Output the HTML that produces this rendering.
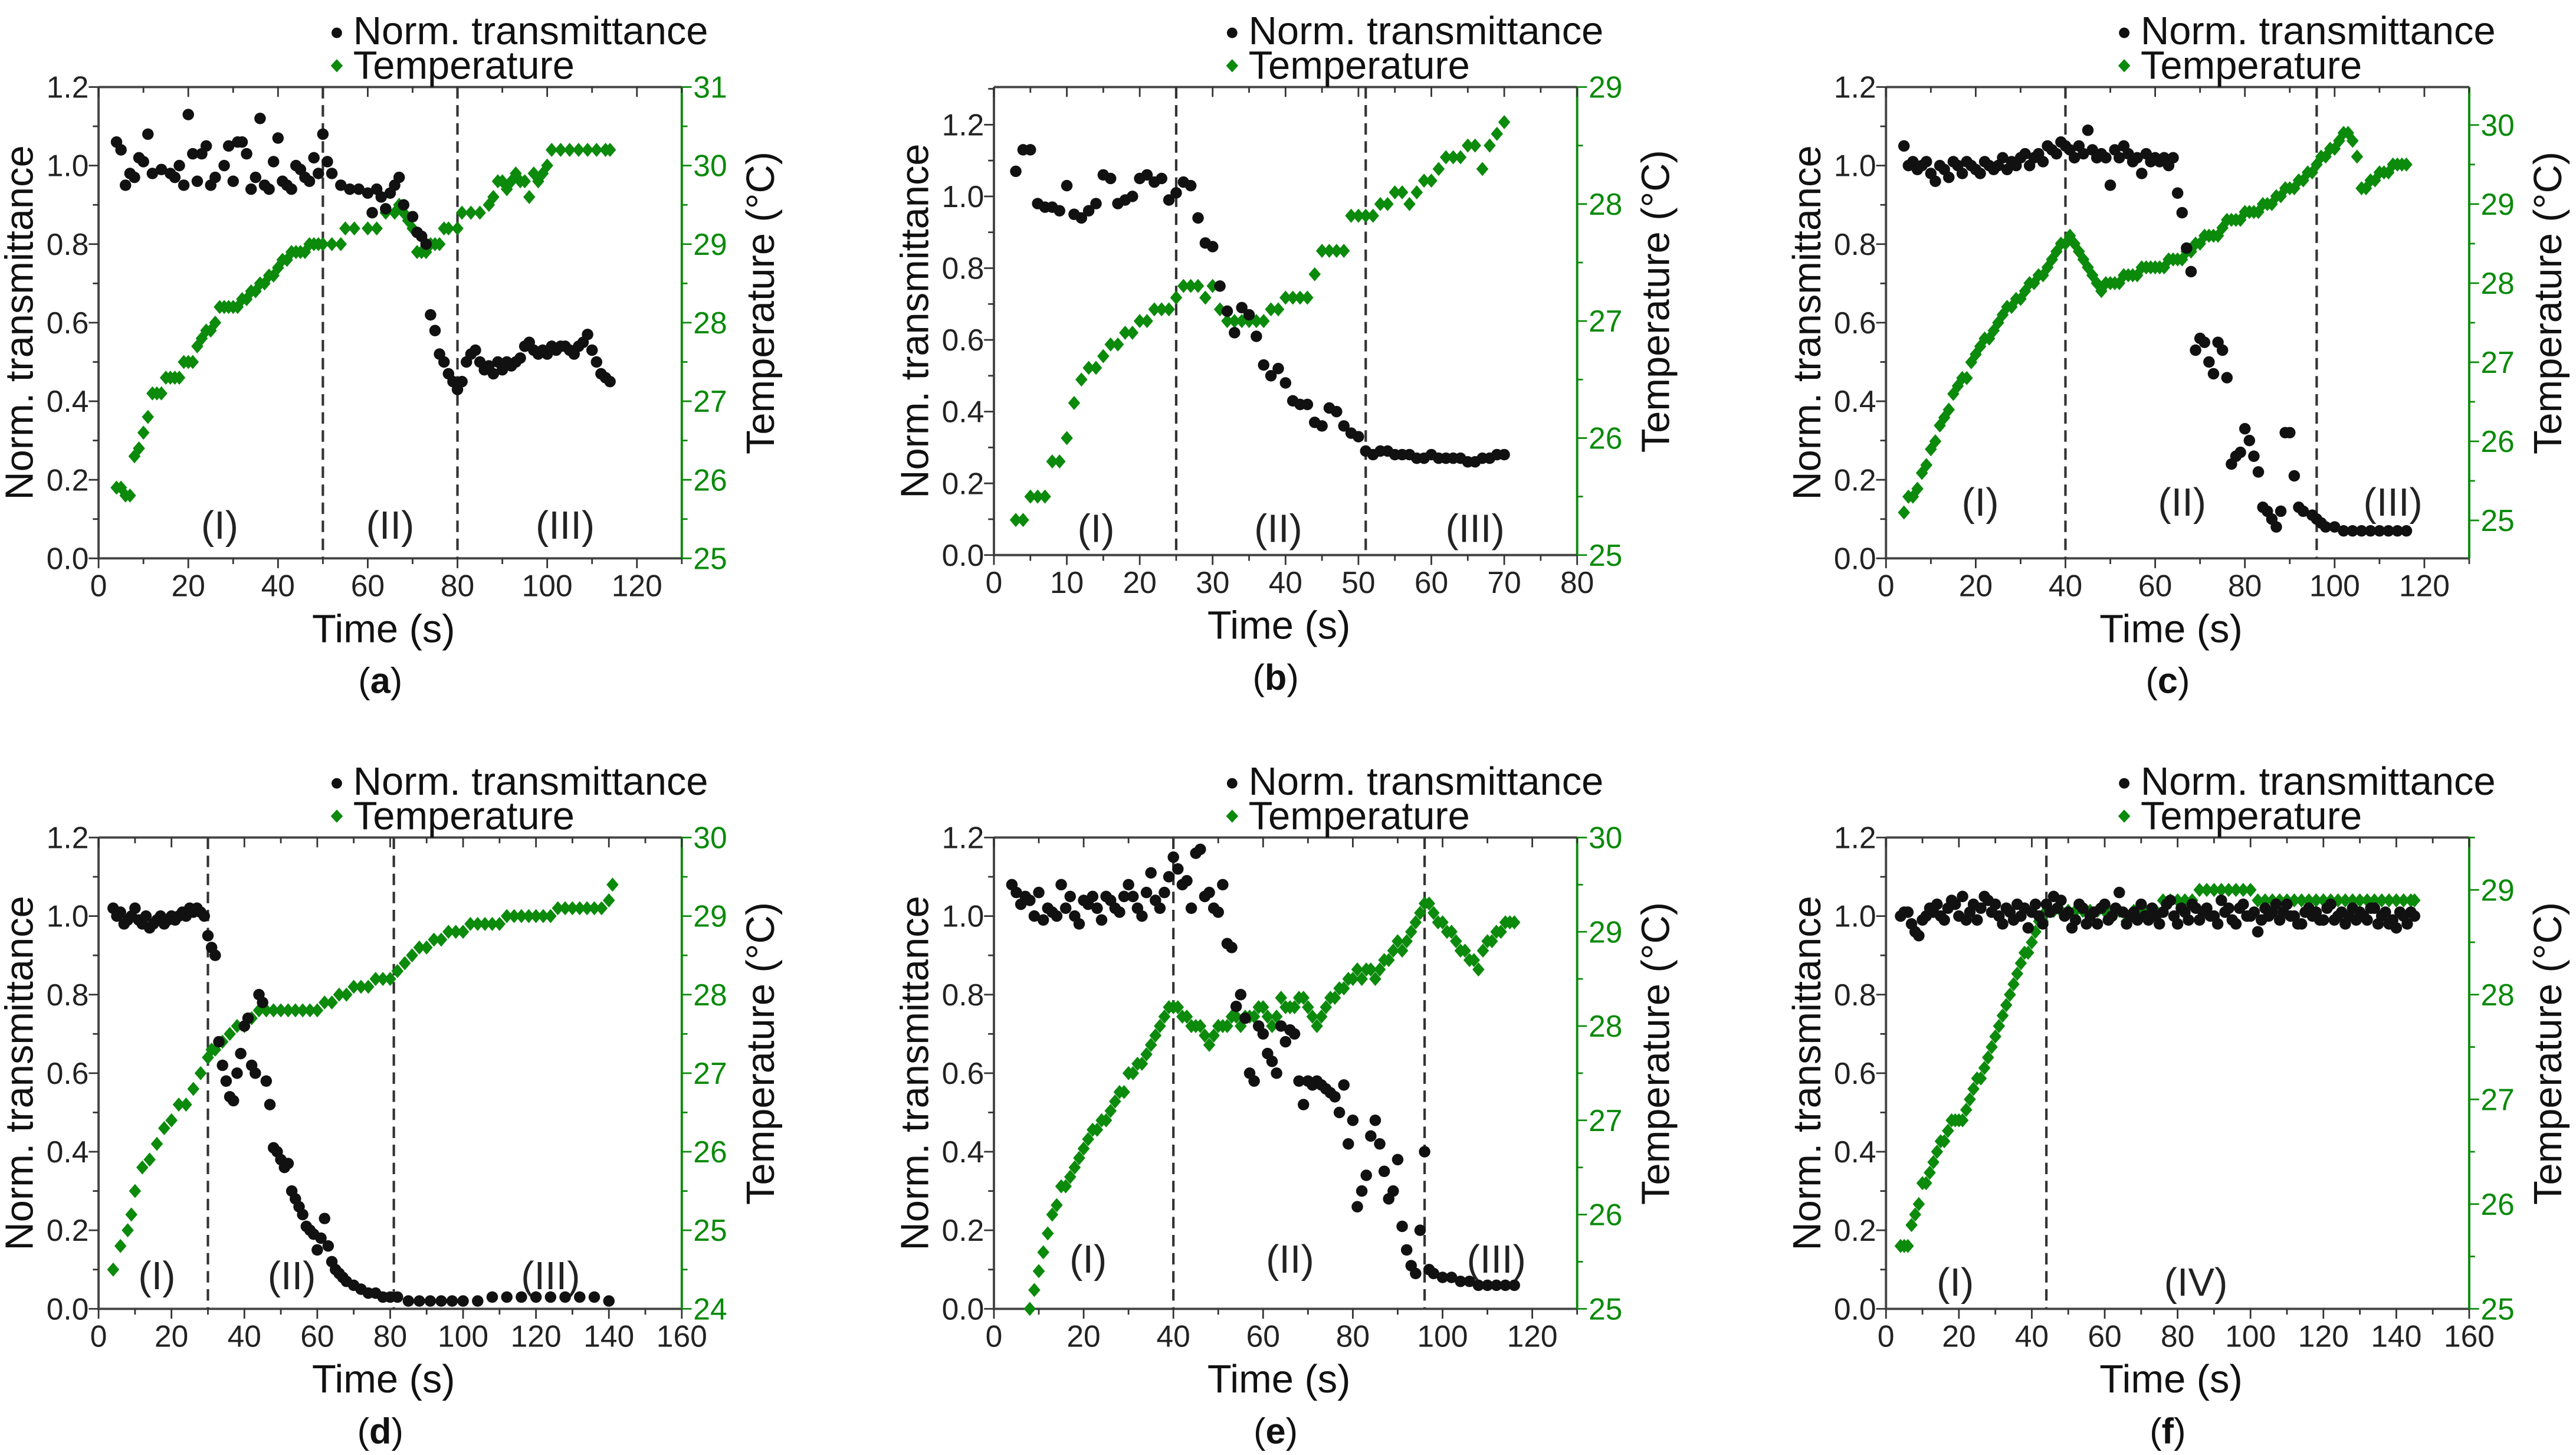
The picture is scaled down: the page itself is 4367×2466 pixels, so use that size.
<!DOCTYPE html>
<html><head><meta charset="utf-8"><style>
html,body{margin:0;padding:0;background:#fff;}
svg{display:block;font-family:"Liberation Sans",Arial,sans-serif;}
</style></head><body>
<svg id="fig" width="4367" height="2466" viewBox="0 0 1568 886" preserveAspectRatio="none" xmlns="http://www.w3.org/2000/svg"></svg>
<script>
// ---------- data ----------
const aTransT=[4,5,6,7,8,9,10,11,12,14,16,17,18,19,20,21,22,23,24,25,26,28,29,30,31,32,33,34,35,36,37,38,39,40,41,42,43,44,45,46,47,48,49,50,51,52,54,56,58,60,61,62,63,64,65,66,67,68,70,71,72,73,74,75,76,77,78,79,80,81,82,83,84,85,86,87,88,89,90,91,92,93,94,95,96,97,98,99,100,101,102,103,104,105,106,107,108,109,110,111,112,113,114];
const aTransV=[1.06,1.04,0.95,0.98,0.97,1.02,1.01,1.08,0.98,0.99,0.98,0.97,1.0,0.95,1.13,1.03,0.96,1.03,1.05,0.95,0.97,1.0,1.05,0.96,1.06,1.06,1.03,0.94,0.97,1.12,0.95,0.94,1.01,1.07,0.96,0.95,0.94,1.0,0.99,0.97,0.96,1.02,0.98,1.08,1.01,0.98,0.95,0.94,0.94,0.93,0.88,0.94,0.92,0.89,0.93,0.95,0.97,0.9,0.87,0.83,0.82,0.8,0.62,0.58,0.52,0.5,0.47,0.45,0.43,0.45,0.5,0.52,0.53,0.5,0.48,0.49,0.47,0.5,0.48,0.5,0.49,0.5,0.51,0.54,0.55,0.53,0.52,0.53,0.52,0.54,0.53,0.54,0.54,0.53,0.52,0.54,0.55,0.57,0.53,0.5,0.47,0.46,0.45];
const aTempT=[4,5,6,7,8,9,10,11,12,13,14,15,16,17,18,19,20,21,22,23,24,25,26,27,28,29,30,31,32,33,34,35,36,37,38,39,40,41,42,43,44,45,46,47,48,49,50,52,54,55,57,60,62,64,66,67,68,69,70,71,72,73,74,75,76,77,78,80,81,83,85,87,88,89,90,91,92,93,94,95,96,97,98,99,100,101,103,105,107,109,111,113,114];
const aTempV=[25.9,25.9,25.8,25.8,26.3,26.4,26.6,26.8,27.1,27.1,27.1,27.3,27.3,27.3,27.3,27.5,27.5,27.5,27.7,27.8,27.9,27.9,28.0,28.2,28.2,28.2,28.2,28.2,28.3,28.3,28.4,28.4,28.5,28.5,28.6,28.6,28.7,28.8,28.8,28.9,28.9,28.9,28.9,29.0,29.0,29.0,29.0,29.0,29.0,29.2,29.2,29.2,29.2,29.4,29.4,29.5,29.4,29.3,29.2,28.9,28.9,28.9,29.0,29.0,29.0,29.2,29.2,29.2,29.4,29.4,29.4,29.5,29.6,29.8,29.8,29.7,29.8,29.9,29.8,29.8,29.6,29.9,29.8,29.9,30.0,30.2,30.2,30.2,30.2,30.2,30.2,30.2,30.2];

const bTransT=[3,4,5,6,7,8,9,10,11,12,13,14,15,16,17,18,19,20,21,22,23,24,25,26,27,28,29,30,31,32,33,34,35,36,37,38,39,40,41,42,43,44,45,46,47,48,49,50,51,52,53,54,55,56,57,58,59,60,61,62,63,64,65,66,67,68,69,70];
const bTransV=[1.07,1.13,1.13,0.98,0.97,0.97,0.96,1.03,0.95,0.94,0.96,0.98,1.06,1.05,0.98,0.99,1.0,1.05,1.06,1.04,1.05,0.99,1.01,1.04,1.03,0.94,0.87,0.86,0.75,0.68,0.62,0.69,0.67,0.61,0.53,0.5,0.52,0.48,0.43,0.42,0.42,0.37,0.36,0.41,0.4,0.36,0.34,0.33,0.29,0.28,0.29,0.29,0.28,0.28,0.28,0.27,0.27,0.28,0.27,0.27,0.27,0.27,0.26,0.26,0.27,0.27,0.28,0.28];
const bTempT=[3,4,5,6,7,8,9,10,11,12,13,14,15,16,17,18,19,20,21,22,23,24,25,26,27,28,29,30,31,32,33,34,35,36,37,38,39,40,41,42,43,44,45,46,47,48,49,50,51,52,53,54,55,56,57,58,59,60,61,62,63,64,65,66,67,68,69,70];
const bTempV=[25.3,25.3,25.5,25.5,25.5,25.8,25.8,26.0,26.3,26.5,26.6,26.6,26.7,26.8,26.8,26.9,26.9,27.0,27.0,27.1,27.1,27.1,27.2,27.3,27.3,27.3,27.2,27.3,27.1,27.0,27.0,27.0,27.0,27.0,27.0,27.1,27.1,27.2,27.2,27.2,27.2,27.4,27.6,27.6,27.6,27.6,27.9,27.9,27.9,27.9,28.0,28.0,28.1,28.1,28.0,28.1,28.2,28.2,28.3,28.4,28.4,28.4,28.5,28.5,28.3,28.5,28.6,28.7];

const cTransT=[4,5,6,7,8,9,10,11,12,13,14,15,16,17,18,19,20,21,22,23,24,25,26,27,28,29,30,31,32,33,34,35,36,37,38,39,40,41,42,43,44,45,46,47,48,49,50,51,52,53,54,55,56,57,58,59,60,61,62,63,64,65,66,67,68,69,70,71,72,73,74,75,76,77,78,79,80,81,82,83,84,85,86,87,88,89,90,91,92,93,95,96,97,98,100,102,104,106,108,110,112,114,116];
const cTransV=[1.05,1.0,1.01,0.99,1.0,1.01,0.98,0.96,1.0,0.99,0.97,1.01,1.0,0.98,1.01,1.0,0.99,0.98,1.01,1.0,0.99,1.0,1.02,0.99,1.01,1.0,1.02,1.03,1.0,1.02,1.03,1.01,1.05,1.04,1.03,1.06,1.05,1.04,1.02,1.05,1.03,1.09,1.04,1.02,1.03,1.02,0.95,1.04,1.02,1.05,1.03,1.01,1.02,0.98,1.03,1.01,1.02,1.01,1.02,1.0,1.02,0.93,0.88,0.79,0.73,0.53,0.56,0.55,0.5,0.47,0.55,0.53,0.46,0.24,0.26,0.27,0.33,0.3,0.26,0.22,0.13,0.12,0.1,0.08,0.12,0.32,0.32,0.21,0.13,0.12,0.11,0.1,0.09,0.08,0.08,0.07,0.07,0.07,0.07,0.07,0.07,0.07,0.07];
const cTempT=[4,5,6,7,8,9,10,11,12,13,14,15,16,17,18,19,20,21,22,23,24,25,26,27,28,29,30,31,32,33,34,35,36,37,38,39,40,41,42,43,44,45,46,47,48,49,50,51,52,53,54,55,56,57,58,59,60,61,62,63,64,65,66,67,68,69,70,71,72,73,74,75,76,77,78,79,80,81,82,83,84,85,86,87,88,89,90,91,92,93,94,95,96,97,98,99,100,101,102,103,104,105,106,107,108,109,110,111,112,113,114,115,116];
const cTempV=[25.1,25.3,25.3,25.4,25.6,25.7,25.9,26.0,26.2,26.3,26.4,26.6,26.7,26.8,26.8,27.0,27.1,27.2,27.3,27.3,27.4,27.5,27.6,27.7,27.7,27.8,27.8,27.9,28.0,28.0,28.1,28.1,28.2,28.3,28.4,28.5,28.5,28.6,28.5,28.4,28.3,28.2,28.1,28.0,27.9,28.0,28.0,28.0,28.0,28.1,28.1,28.1,28.1,28.2,28.2,28.2,28.2,28.2,28.2,28.3,28.3,28.3,28.3,28.4,28.4,28.5,28.5,28.6,28.6,28.6,28.6,28.7,28.8,28.8,28.8,28.8,28.9,28.9,28.9,28.9,29.0,29.0,29.0,29.1,29.1,29.2,29.2,29.2,29.3,29.3,29.4,29.4,29.5,29.6,29.6,29.7,29.7,29.8,29.9,29.9,29.8,29.6,29.2,29.2,29.3,29.3,29.4,29.4,29.4,29.5,29.5,29.5,29.5];

const dTransT=[4,5,6,7,8,9,10,11,12,13,14,15,16,17,18,19,20,21,22,23,24,25,26,27,28,29,30,31,32,33,34,35,36,37,38,39,40,41,42,43,44,45,46,47,48,49,50,51,52,53,54,55,56,57,58,59,60,61,62,63,64,65,66,67,68,70,72,74,76,78,80,82,85,88,91,94,97,100,104,108,112,116,120,124,128,132,136,140];
const dTransV=[1.02,1.0,1.01,0.98,0.99,1.0,1.02,0.99,0.98,1.0,0.97,0.98,0.99,1.0,0.98,0.99,1.0,0.99,1.0,1.01,1.0,1.02,1.01,1.02,1.01,1.0,0.95,0.92,0.9,0.68,0.62,0.58,0.54,0.53,0.6,0.65,0.72,0.74,0.62,0.6,0.8,0.78,0.58,0.52,0.41,0.4,0.38,0.36,0.37,0.3,0.28,0.26,0.24,0.21,0.2,0.19,0.15,0.18,0.23,0.16,0.12,0.1,0.09,0.08,0.07,0.06,0.05,0.04,0.04,0.03,0.03,0.03,0.02,0.02,0.02,0.02,0.02,0.02,0.02,0.03,0.03,0.03,0.03,0.03,0.03,0.03,0.03,0.02];
const dTempT=[4,6,8,9,10,12,14,16,18,20,22,24,26,28,30,31,32,34,36,38,40,42,44,46,48,50,52,54,56,58,60,62,64,66,68,70,72,74,76,78,80,82,84,86,88,90,92,94,96,98,100,102,104,106,108,110,112,114,116,118,120,122,124,126,128,130,132,134,136,138,140,141];
const dTempV=[24.5,24.8,25.0,25.2,25.5,25.8,25.9,26.1,26.3,26.4,26.6,26.6,26.8,27.0,27.2,27.3,27.3,27.4,27.5,27.6,27.6,27.7,27.8,27.8,27.8,27.8,27.8,27.8,27.8,27.8,27.8,27.9,27.9,28.0,28.0,28.1,28.1,28.1,28.2,28.2,28.2,28.3,28.4,28.5,28.6,28.6,28.7,28.7,28.8,28.8,28.8,28.9,28.9,28.9,28.9,28.9,29.0,29.0,29.0,29.0,29.0,29.0,29.0,29.1,29.1,29.1,29.1,29.1,29.1,29.1,29.2,29.4];

const eTransT=[4,5,6,7,8,9,10,11,12,13,14,15,16,17,18,19,20,21,22,23,24,25,26,27,28,29,30,31,32,33,34,35,36,37,38,39,40,41,42,43,44,45,46,47,48,49,50,51,52,53,54,55,56,57,58,59,60,61,62,63,64,65,66,67,68,69,70,71,72,73,74,75,76,77,78,79,80,81,82,83,84,85,86,87,88,89,90,91,92,93,94,95,96,97,98,100,102,104,106,108,110,112,114,116];
const eTransV=[1.08,1.06,1.03,1.05,1.04,1.0,1.06,0.99,1.02,1.01,1.0,1.08,1.02,1.05,1.0,0.98,1.04,1.03,1.05,1.02,0.99,1.05,1.04,1.02,1.01,1.05,1.08,1.05,1.02,1.0,1.06,1.11,1.04,1.02,1.06,1.1,1.15,1.12,1.08,1.09,1.02,1.16,1.17,1.05,1.06,1.02,1.01,1.08,0.93,0.92,0.77,0.8,0.74,0.6,0.58,0.72,0.7,0.65,0.63,0.6,0.72,0.68,0.71,0.7,0.58,0.52,0.58,0.57,0.58,0.57,0.56,0.55,0.54,0.5,0.57,0.42,0.48,0.26,0.3,0.34,0.44,0.48,0.42,0.35,0.28,0.3,0.38,0.21,0.15,0.11,0.09,0.2,0.4,0.1,0.09,0.08,0.08,0.07,0.07,0.06,0.06,0.06,0.06,0.06];
const eTempT=[8,9,10,11,12,13,14,15,16,17,18,19,20,21,22,23,24,25,26,27,28,29,30,31,32,33,34,35,36,37,38,39,40,41,42,43,44,45,46,47,48,49,50,51,52,53,54,55,56,57,58,59,60,61,62,63,64,65,66,67,68,69,70,71,72,73,74,75,76,77,78,79,80,81,82,83,84,85,86,87,88,89,90,91,92,93,94,95,96,97,98,99,100,101,102,103,104,105,106,107,108,109,110,111,112,113,114,115,116];
const eTempV=[25.0,25.2,25.4,25.6,25.8,26.0,26.1,26.3,26.3,26.4,26.5,26.6,26.7,26.8,26.9,26.9,27.0,27.0,27.1,27.2,27.3,27.3,27.5,27.5,27.6,27.6,27.7,27.8,27.9,28.0,28.1,28.2,28.2,28.2,28.1,28.1,28.0,28.0,28.0,27.9,27.8,27.9,28.0,28.0,28.0,28.1,28.1,28.0,28.1,28.1,28.1,28.2,28.2,28.1,28.0,28.1,28.3,28.2,28.2,28.2,28.3,28.3,28.2,28.1,28.0,28.1,28.2,28.3,28.3,28.4,28.4,28.5,28.5,28.6,28.5,28.6,28.6,28.5,28.6,28.7,28.7,28.8,28.9,28.8,28.9,29.0,29.1,29.2,29.3,29.3,29.2,29.1,29.1,29.0,29.0,28.9,28.8,28.8,28.7,28.7,28.6,28.8,28.9,28.9,29.0,29.0,29.1,29.1,29.1];

const fTransT=[4,5,6,7,8,9,10,11,12,13,14,15,16,17,18,19,20,21,22,23,24,25,26,27,28,29,30,31,32,33,34,35,36,37,38,39,40,41,42,43,44,45,46,47,48,49,50,51,52,53,54,55,56,57,58,59,60,61,62,63,64,65,66,67,68,69,70,71,72,73,74,75,76,77,78,79,80,81,82,83,84,85,86,87,88,89,90,91,92,93,94,95,96,97,98,99,100,101,102,103,104,105,106,107,108,109,110,111,112,113,114,115,116,117,118,119,120,121,122,123,124,125,126,127,128,129,130,131,132,133,134,135,136,137,138,139,140,141,142,143,144,145];
const fTransV=[1.0,1.01,1.01,0.98,0.96,0.95,0.99,1.0,1.02,1.01,1.03,1.0,0.99,1.02,1.04,1.03,1.0,1.05,0.99,1.01,1.03,0.99,1.02,1.05,1.04,1.01,1.03,1.0,0.98,1.02,1.01,0.99,1.03,1.0,1.02,0.97,1.01,1.03,1.0,0.98,1.03,1.01,1.05,1.02,1.04,1.0,1.01,0.97,0.99,1.03,1.02,0.98,1.0,1.01,0.98,1.02,1.03,0.99,1.0,1.02,1.06,1.01,0.98,1.0,1.01,0.99,1.03,1.0,0.99,1.02,1.0,0.98,1.01,1.03,1.04,1.0,0.98,1.02,1.01,0.99,1.03,1.02,0.99,1.01,1.02,1.0,1.0,0.98,1.04,1.01,1.02,0.99,0.98,1.02,1.03,1.0,1.0,1.01,0.96,0.99,1.02,1.0,1.01,1.03,0.99,1.01,1.03,1.0,1.0,0.98,0.98,1.01,1.02,1.0,1.01,0.99,0.99,1.02,1.03,0.99,1.0,1.01,0.98,1.0,1.02,0.99,1.01,1.0,0.99,1.02,1.02,0.98,1.0,1.01,0.98,0.99,0.97,1.01,1.0,0.98,1.01,1.0];
const fTempT=[4,5,6,7,8,9,10,11,12,13,14,15,16,17,18,19,20,21,22,23,24,25,26,27,28,29,30,31,32,33,34,35,36,37,38,39,40,41,42,43,44,46,48,50,52,54,56,58,60,62,64,66,68,70,72,74,76,78,80,82,84,86,88,90,92,94,96,98,100,102,104,106,108,110,112,114,116,118,120,122,124,126,128,130,132,134,136,138,140,142,144,145];
const fTempV=[25.6,25.6,25.6,25.8,25.9,26.0,26.2,26.2,26.3,26.4,26.5,26.6,26.6,26.7,26.8,26.8,26.8,26.8,26.9,27.0,27.1,27.2,27.2,27.3,27.4,27.5,27.6,27.7,27.8,27.9,28.0,28.1,28.2,28.3,28.4,28.4,28.5,28.6,28.7,28.7,28.8,28.8,28.8,28.8,28.8,28.8,28.8,28.8,28.8,28.8,28.8,28.7,28.8,28.8,28.8,28.8,28.9,28.9,28.9,28.9,28.9,29.0,29.0,29.0,29.0,29.0,29.0,29.0,29.0,28.9,28.9,28.9,28.9,28.9,28.9,28.9,28.9,28.9,28.9,28.9,28.9,28.9,28.9,28.9,28.9,28.9,28.9,28.9,28.9,28.9,28.9,28.9];

const xTicksA=[0,20,40,60,80,100,120];
const xTicksB=[0,10,20,30,40,50,60,70,80];
const xTicksD=[0,20,40,60,80,100,120,140,160];
const yLeftTicks=[0,0.2,0.4,0.6,0.8,1.0,1.2];

const panels=[
 {id:'a',L:60,R:415,T:53,B:340,xMax:130,ylMax:1.2,yr:[25,31],xt:xTicksA,yrt:[25,26,27,28,29,30,31],dash:[50,80],reg:[['(I)',27],['(II)',65],['(III)',104]],regY:328,tt:aTransT,tv:aTransV,gt:aTempT,gv:aTempV},
 {id:'b',L:605,R:960,T:53,B:338,xMax:80,ylMax:1.305,yr:[25,29],xt:xTicksB,yrt:[25,26,27,28,29],dash:[25,51],reg:[['(I)',14],['(II)',39],['(III)',66]],regY:330,tt:bTransT,tv:bTransV,gt:bTempT,gv:bTempV},
 {id:'c',L:1148,R:1503,T:53,B:340,xMax:130,ylMax:1.2,yr:[24.52,30.48],xt:xTicksA,yrt:[25,26,27,28,29,30],dash:[40,96],reg:[['(I)',21],['(II)',66],['(III)',113]],regY:314,tt:cTransT,tv:cTransV,gt:cTempT,gv:cTempV},
 {id:'d',L:60,R:415,T:510,B:797,xMax:160,ylMax:1.2,yr:[24,30],xt:xTicksD,yrt:[24,25,26,27,28,29,30],dash:[30,81],reg:[['(I)',16],['(II)',53],['(III)',124]],regY:785,tt:dTransT,tv:dTransV,gt:dTempT,gv:dTempV},
 {id:'e',L:605,R:960,T:510,B:797,xMax:130,ylMax:1.2,yr:[25,30],xt:xTicksA,yrt:[25,26,27,28,29,30],dash:[40,96],reg:[['(I)',21],['(II)',66],['(III)',112]],regY:775,tt:eTransT,tv:eTransV,gt:eTempT,gv:eTempV},
 {id:'f',L:1148,R:1503,T:510,B:797,xMax:160,ylMax:1.2,yr:[25,29.5],xt:xTicksD,yrt:[25,26,27,28,29],dash:[44],reg:[['(I)',19],['(IV)',85]],regY:789,tt:fTransT,tv:fTransV,gt:fTempT,gv:fTempV}
];

const NS='http://www.w3.org/2000/svg';
const svg=document.getElementById('fig');
const GREEN='#0a8a0a';
function mk(tag,attrs,parent,text){const e=document.createElementNS(NS,tag);for(const k in attrs)e.setAttribute(k,attrs[k]);if(text!==undefined)e.textContent=text;parent.appendChild(e);return e;}

panels.forEach(p=>{
  const g=mk('g',{},svg);
  
  
  const sx=v=>p.L+(v/p.xMax)*(p.R-p.L);
  const sl=v=>p.B-(v/p.ylMax)*(p.B-p.T);
  const sr=v=>p.B-((v-p.yr[0])/(p.yr[1]-p.yr[0]))*(p.B-p.T);
  const fr=mk('path',{d:`M${p.L},${p.T}H${p.R}M${p.L},${p.T}V${p.B}H${p.R}`,stroke:'#444',fill:'none','stroke-width':1.4},g);
  
  
  const ra=mk('line',{x1:p.R,y1:p.T,x2:p.R,y2:p.B,stroke:GREEN,'stroke-width':1.4},g);
  
  
  const step=p.xt[1]-p.xt[0];
  for(let v=0;v<=p.xMax+0.001;v+=step/2){
    const major=Math.abs((v/step)-Math.round(v/step))<1e-6;
    mk('line',{x1:sx(v),x2:sx(v),y1:p.B,y2:p.B+(major?6:3.5),stroke:'#333','stroke-width':1},g);
    mk('line',{x1:sx(v),x2:sx(v),y1:p.T,y2:p.T+(major?6:3.5),stroke:'#333','stroke-width':1},g);
  }
  p.xt.forEach(v=>{
    const t=mk('text',{x:sx(v),y:p.B+23,'text-anchor':'middle','font-size':18.5,fill:'#222'},g,String(v));
    
    
  });
  for(let v=0;v<=p.ylMax+0.001;v+=0.1){
    const major=Math.round(v*10)%2===0;
    mk('line',{x1:p.L-(major?6:3.5),x2:p.L,y1:sl(v),y2:sl(v),stroke:'#333','stroke-width':1},g);
  }
  yLeftTicks.forEach(v=>{
    const t=mk('text',{x:p.L-6,y:sl(v)+6.5,'text-anchor':'end','font-size':18.5,fill:'#222'},g,v.toFixed(1));
    
    
  });
  for(let v=Math.ceil(p.yr[0]*2)/2;v<=p.yr[1]+0.001;v+=0.5){
    const major=Math.abs(v-Math.round(v))<1e-6;
    mk('line',{x1:p.R,x2:p.R+(major?6:3.5),y1:sr(v),y2:sr(v),stroke:GREEN,'stroke-width':1},g);
  }
  p.yrt.forEach(v=>{
    const t=mk('text',{x:p.R+7,y:sr(v)+6.5,'text-anchor':'start','font-size':18.5,fill:GREEN},g,String(v));
    
    
  });
  p.dash.forEach(v=>{
    const l=mk('line',{x1:sx(v),x2:sx(v),y1:p.T,y2:p.B,stroke:'#333','stroke-width':1.5,'stroke-dasharray':'7,4'},g);
    
    
  });
  p.reg.forEach(r=>{
    const t=mk('text',{x:sx(r[1]),y:p.regY,'text-anchor':'middle','font-size':24,fill:'#222'},g,r[0]);
    
    
  });
  p.gt.forEach((t,i)=>{
    const x=sx(t),y=sr(p.gv[i]);
    const d=mk('path',{d:`M${x},${y-4.3}L${x+3.7},${y}L${x},${y+4.3}L${x-3.7},${y}Z`,fill:'#0b8a0b'},g);
    
    
  });
  p.tt.forEach((t,i)=>{
    const c=mk('circle',{cx:sx(t),cy:sl(p.tv[i]),r:3.5,fill:'#111'},g);
    
    
  });
  const cy=(p.T+p.B)/2;
  const yl=mk('text',{x:0,y:0,transform:`translate(${p.L-40},${cy}) rotate(-90)`,'text-anchor':'middle','font-size':24,fill:'#111'},g,'Norm. transmittance');
  
  
  const yr=mk('text',{x:0,y:0,transform:`translate(${p.R+56},${cy-12}) rotate(-90)`,'text-anchor':'middle','font-size':24,fill:'#111'},g,'Temperature (°C)');
  
  
  const xl=mk('text',{x:(p.L+p.R)/2-4,y:p.B+51,'text-anchor':'middle','font-size':24,fill:'#111'},g,'Time (s)');
  
  
  const cap=mk('text',{x:(p.L+p.R)/2-6,y:p.B+82,'text-anchor':'middle','font-size':22,fill:'#111'},g);
  
  
  mk('tspan',{},cap,'(');mk('tspan',{'font-weight':'bold'},cap,p.id);mk('tspan',{},cap,')');
  const lg=mk('g',{},g);
  
  
  const lx=p.L+145;
  const ly1=p.T-26, ly2=p.T-5;
  mk('circle',{cx:lx,cy:ly1-7,r:3.2,fill:'#111'},lg);
  const t1=mk('text',{x:lx+10,y:ly1,'font-size':24,fill:'#111'},lg,'Norm. transmittance');
  
  
  mk('path',{d:`M${lx},${ly2-12}L${lx+3.7},${ly2-8}L${lx},${ly2-4}L${lx-3.7},${ly2-8}Z`,fill:'#0b8a0b'},lg);
  const t2=mk('text',{x:lx+10,y:ly2,'font-size':24,fill:'#111'},lg,'Temperature');
  
  
});
</script>
</body></html>
